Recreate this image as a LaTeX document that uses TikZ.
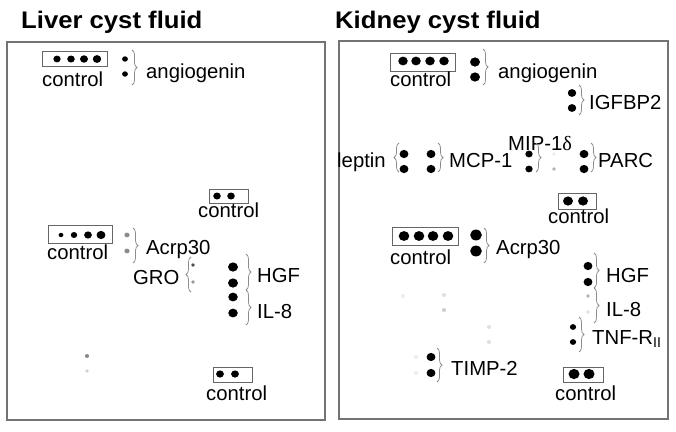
\documentclass[tikz,border=0pt]{standalone}
\usepackage{fontspec}
\setmainfont{Liberation Sans}
\newfontfamily\titlefont{Liberation Sans}[FakeStretch=1.07]
\newfontfamily\grkfont{Liberation Serif}
\usetikzlibrary{decorations.pathreplacing}
\newcommand\spot[4]{\fill[#4] (#1,#2) ellipse [x radius=#3*1.08, y radius=#3];}
\begin{document}
\begin{tikzpicture}[x=1pt,y=-1pt,
  lbl/.style={anchor=base west,inner sep=0pt,font=\fontsize{20.3}{21}\selectfont},
  ttl/.style={anchor=base west,inner sep=0pt,font=\titlefont\bfseries\fontsize{24}{26}\selectfont},
  panel/.style={draw=black!55,line width=1.1pt},
  cbox/.style={draw=black!60,line width=0.9pt},
  brc/.style={draw=black!45,line width=0.75pt,decorate,decoration={brace,amplitude=5pt}},
]
\useasboundingbox (0,0) rectangle (676,431);
\fill[white] (0,0) rectangle (676,431);

% titles
\node[ttl] (t1) at (21,28) {Liver cyst fluid};
\node[ttl] (t2) at (335,28) {Kidney cyst fluid};

% panels
\draw[panel] (7,42) rectangle (325,420);
\draw[panel] (339,41) rectangle (668,419);

% ---------------- left panel ----------------
\draw[cbox] (42,51) rectangle (107,66);
\spot{57}{59}{3.4}{black}\spot{71}{59}{3.5}{black}\spot{84}{59}{3.7}{black}\spot{97}{59}{3.9}{black}
\node[lbl] (lc1) at (42,86) {control};
\spot{125}{59}{2.7}{black}\spot{125}{74}{2.7}{black}
\draw[brc] (132,50) -- (132,85);
\node[lbl] (la) at (146,78) {angiogenin};

\draw[cbox] (209,189) rectangle (248,203);
\spot{217}{196}{3.5}{black}\spot{231}{196}{3.5}{black}
\node[lbl] (lc2) at (198,217) {control};

\draw[cbox] (48,225) rectangle (112,243);
\spot{61}{235}{2.2}{black}\spot{74}{235}{3}{black}\spot{88}{235}{3.6}{black}\spot{101}{235}{4.1}{black}
\node[lbl] (lc3) at (47,259) {control};
\spot{127}{235}{2.4}{black!45}\spot{127}{251}{2.4}{black!45}
\draw[brc] (133,228) -- (133,263);
\node[lbl] (lacrp) at (146,254) {Acrp30};

\node[lbl] (lgro) at (133,284) {GRO};
\draw[brc] (191,292) -- (191,257);
\spot{193}{265}{1.8}{black!70}\spot{193}{282}{1.8}{black!40}

\spot{233}{267}{4.6}{black}\spot{233}{283}{4.6}{black}\spot{233}{297}{4.4}{black}\spot{233}{313}{4.4}{black}
\draw[brc] (246,254) -- (246,290);
\draw[brc] (246,290) -- (246,325);
\node[lbl] (lhgf) at (257,282) {HGF};
\node[lbl] (lil8) at (257,318) {IL-8};

\spot{87}{356}{2}{black!45}\spot{87}{371}{1.8}{black!18}

\draw[cbox] (213,367) rectangle (252,382);
\spot{220}{374}{3.6}{black}\spot{235}{374}{3.6}{black}
\node[lbl] (lc4) at (206,400) {control};

% ---------------- right panel ----------------
\draw[cbox] (390,53) rectangle (455,71);
\spot{403}{61}{4.4}{black}\spot{416}{61}{4.4}{black}\spot{430}{61}{4.4}{black}\spot{444}{61}{4.4}{black}
\node[lbl] (rc1) at (390,86) {control};
\spot{475}{62}{4.6}{black}\spot{475}{77}{4.6}{black}
\draw[brc] (483,49) -- (483,85);
\node[lbl] (ra) at (498,78) {angiogenin};

\spot{572}{93}{3.9}{black}\spot{572}{108}{3.9}{black}
\draw[brc] (579,85) -- (579,115);
\node[lbl] (rigf) at (589,109) {IGFBP2};

\node[lbl] (rlep) at (337,167) {leptin};
\draw[brc] (399,172) -- (399,143);
\spot{404}{154}{4.1}{black}\spot{404}{169}{4.1}{black}
\spot{431}{154}{4.1}{black}\spot{431}{169}{4.1}{black}
\draw[brc] (438,143) -- (438,172);
\node[lbl] (rmcp) at (449,167) {MCP-1};
\node[lbl] (rmip) at (508,150) {MIP-1{\grkfont δ}};
\spot{529}{154}{3.4}{black}\spot{529}{169}{3.4}{black}
\draw[brc] (536,143) -- (536,172);
\spot{554}{154}{1.8}{black!8}\spot{554}{169}{1.8}{black!30}
\spot{584}{154}{4.1}{black}\spot{584}{169}{4.1}{black}
\draw[brc] (591,143) -- (591,172);
\node[lbl] (rparc) at (598,167) {PARC};

\draw[cbox] (558,193) rectangle (596,209);
\spot{568}{201}{4.6}{black}\spot{583}{201}{4.6}{black}
\node[lbl] (rc2) at (548,223) {control};

\draw[cbox] (392,227) rectangle (458,245);
\spot{404}{236}{4.9}{black}\spot{419}{236}{4.9}{black}\spot{433}{236}{4.9}{black}\spot{448}{236}{4.9}{black}
\node[lbl] (rc3) at (390,264) {control};
\spot{476}{235}{5.4}{black}\spot{476}{251}{5.4}{black}
\draw[brc] (484,228) -- (484,263);
\node[lbl] (racrp) at (496,254) {Acrp30};

\spot{588}{266}{4.1}{black}\spot{588}{282}{4.1}{black}
\draw[brc] (594,253) -- (594,288);
\node[lbl] (rhgf) at (606,282) {HGF};
\spot{588}{296}{1.8}{black!30}\spot{588}{312}{1.8}{black!12}
\draw[brc] (594,288) -- (594,323);
\node[lbl] (ril8) at (606,316) {IL-8};

\spot{573}{327}{2.9}{black}\spot{573}{342}{2.9}{black}
\draw[brc] (579,317) -- (579,352);
\node[lbl] (rtnf) at (592,344) {TNF-R\textsubscript{II}};

\spot{431}{357}{4.1}{black}\spot{431}{373}{4.1}{black}
\draw[brc] (437,348) -- (437,382);
\node[lbl] (rtimp) at (451,375) {TIMP-2};

\draw[cbox] (563,367) rectangle (603,382);
\spot{574}{374}{5.1}{black}\spot{589}{374}{5.1}{black}
\node[lbl] (rc4) at (555,400) {control};

% faint background spots
\spot{444}{295}{2}{black!12}\spot{444}{310}{2}{black!18}
\spot{489}{327}{2}{black!12}\spot{489}{342}{2}{black!12}
\spot{403}{296}{2}{black!7}\spot{416}{357}{2}{black!7}\spot{416}{373}{2}{black!7}
\end{tikzpicture}
\end{document}
